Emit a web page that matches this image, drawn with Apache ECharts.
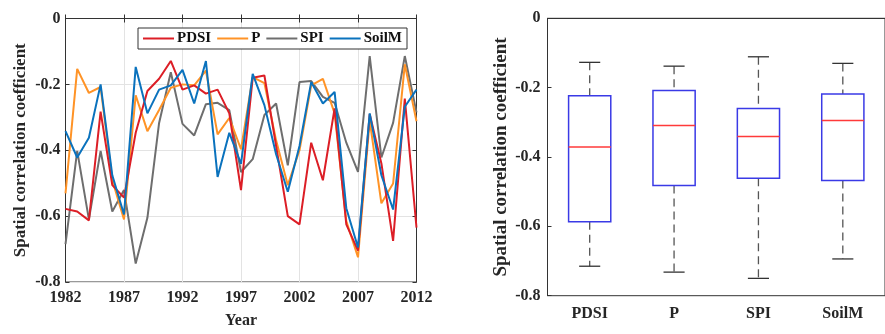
<!DOCTYPE html>
<html>
<head>
<meta charset="utf-8">
<script src="https://cdn.jsdelivr.net/npm/echarts@6/dist/echarts.min.js"></script>
<style>html,body{margin:0;padding:0;background:#fff;}#c{width:885px;height:334px;}</style>
</head>
<body>
<div id="c"></div>
<script>
// ---- Data ----
const years = [];
for (let y = 1982; y <= 2012; y++) years.push(String(y));

const pdsi = [-0.578, -0.586, -0.613, -0.283, -0.506, -0.544, -0.347, -0.220, -0.183, -0.129, -0.216, -0.203, -0.228, -0.216, -0.288, -0.521, -0.180, -0.173, -0.387, -0.600, -0.625, -0.377, -0.491, -0.273, -0.625, -0.705, -0.290, -0.440, -0.675, -0.243, -0.635];
const pData = [-0.531, -0.153, -0.226, -0.208, -0.490, -0.610, -0.233, -0.342, -0.278, -0.210, -0.200, -0.203, -0.158, -0.352, -0.302, -0.397, -0.178, -0.196, -0.370, -0.506, -0.400, -0.203, -0.183, -0.288, -0.615, -0.725, -0.310, -0.561, -0.501, -0.139, -0.312];
const spi = [-0.685, -0.402, -0.610, -0.402, -0.586, -0.521, -0.744, -0.605, -0.317, -0.163, -0.320, -0.355, -0.260, -0.256, -0.278, -0.466, -0.427, -0.293, -0.258, -0.446, -0.193, -0.190, -0.238, -0.256, -0.377, -0.466, -0.114, -0.422, -0.317, -0.114, -0.285];
const soilm = [-0.342, -0.422, -0.362, -0.200, -0.476, -0.595, -0.147, -0.288, -0.216, -0.203, -0.156, -0.258, -0.129, -0.481, -0.347, -0.441, -0.168, -0.263, -0.412, -0.526, -0.387, -0.193, -0.258, -0.223, -0.576, -0.695, -0.288, -0.476, -0.580, -0.268, -0.216];

const boxCategories = ['PDSI', 'P', 'SPI', 'SoilM'];
const boxLow    = [-0.715, -0.732, -0.750, -0.694];
const boxQ1     = [-0.587, -0.482, -0.461, -0.468];
const boxMedian = [-0.371, -0.309, -0.341, -0.295];
const boxQ3     = [-0.223, -0.208, -0.260, -0.218];
const boxHigh   = [-0.127, -0.138, -0.111, -0.130];

// ---- Styles ----
const FONT = '"Liberation Serif", "Times New Roman", serif';
const TXT = '#262626';
const AX = '#333333';

const boxData = boxCategories.map((c, i) => [i, boxLow[i], boxQ1[i], boxMedian[i], boxQ3[i], boxHigh[i]]);

function renderBox(params, api) {
  const x = api.value(0);
  const bw = api.size([1, 0])[0];
  const half = bw * 0.25;
  const cap = bw * 0.125;
  const pLo = api.coord([x, api.value(1)]);
  const pQ1 = api.coord([x, api.value(2)]);
  const pMed = api.coord([x, api.value(3)]);
  const pQ3 = api.coord([x, api.value(4)]);
  const pHi = api.coord([x, api.value(5)]);
  const cx = pMed[0];
  const dash = { stroke: '#555', lineWidth: 1.3, lineDash: [8, 5] };
  const solid = { stroke: '#333', lineWidth: 1.3 };
  return {
    type: 'group',
    children: [
      { type: 'line', shape: { x1: cx, y1: pHi[1], x2: cx, y2: pQ3[1] }, style: dash },
      { type: 'line', shape: { x1: cx, y1: pQ1[1], x2: cx, y2: pLo[1] }, style: dash },
      { type: 'line', shape: { x1: cx - cap, y1: pHi[1], x2: cx + cap, y2: pHi[1] }, style: solid },
      { type: 'line', shape: { x1: cx - cap, y1: pLo[1], x2: cx + cap, y2: pLo[1] }, style: solid },
      { type: 'rect', shape: { x: cx - half, y: pQ3[1], width: 2 * half, height: pQ1[1] - pQ3[1] },
        style: { fill: 'none', stroke: '#3a3ae6', lineWidth: 1.5 } },
      { type: 'line', shape: { x1: cx - half, y1: pMed[1], x2: cx + half, y2: pMed[1] },
        style: { stroke: '#ff3a3a', lineWidth: 1.5 } }
    ]
  };
}

const chart = echarts.init(document.getElementById('c'), null, { renderer: 'canvas' });

const labelStyle = { fontFamily: FONT, fontWeight: 'bold', fontSize: 16, color: TXT };

chart.setOption({
  animation: false,
  backgroundColor: '#fff',
  grid: [
    { left: 65.5, top: 18.5, width: 351, height: 268.5, show: true, borderColor: AX, borderWidth: 1, containLabel: false },
    { left: 547.5, top: 18.3, width: 352, height: 277.4, show: true, borderColor: AX, borderWidth: 1, containLabel: false }
  ],
  legend: {
    data: ['PDSI', 'P', 'SPI', 'SoilM'],
    left: 138, top: 28,
    orient: 'horizontal',
    padding: [3, 5],
    icon: 'rect',
    itemWidth: 31, itemHeight: 2, itemGap: 6,
    borderColor: AX, borderWidth: 1, backgroundColor: '#fff',
    textStyle: { fontFamily: FONT, fontWeight: 'bold', fontSize: 15, color: '#111', padding: [0, 0, 0, -2] }
  },
  xAxis: [
    {
      type: 'category', gridIndex: 0, data: years, boundaryGap: false,
      name: 'Year', nameLocation: 'middle', nameGap: 31,
      nameTextStyle: { fontFamily: FONT, fontWeight: 'bold', fontSize: 16, color: TXT },
      axisLine: { lineStyle: { color: AX } },
      axisTick: { inside: true, length: 4, interval: 4, lineStyle: { color: AX } },
      axisLabel: Object.assign({ interval: 4, margin: 8 }, labelStyle),
      splitLine: { show: true, interval: 4, lineStyle: { color: '#e3e3e3' } }
    },
    {
      type: 'category', gridIndex: 0, data: years, boundaryGap: false, position: 'top',
      axisLine: { lineStyle: { color: AX } },
      axisTick: { inside: true, length: 4, interval: 4, lineStyle: { color: AX } },
      axisLabel: { show: false }, splitLine: { show: false }
    },
    {
      type: 'category', gridIndex: 1, data: boxCategories, boundaryGap: true,
      axisLine: { lineStyle: { color: AX } },
      axisTick: { inside: true, length: 4, alignWithLabel: true, lineStyle: { color: AX } },
      axisLabel: Object.assign({ margin: 10 }, labelStyle),
      splitLine: { show: false }
    },
    {
      type: 'category', gridIndex: 1, data: boxCategories, boundaryGap: true, position: 'top',
      axisLine: { lineStyle: { color: AX } },
      axisTick: { inside: true, length: 4, alignWithLabel: true, lineStyle: { color: AX } },
      axisLabel: { show: false }, splitLine: { show: false }
    }
  ],
  yAxis: [
    {
      type: 'value', gridIndex: 0, min: -0.8, max: 0, interval: 0.2,
      name: 'Spatial correlation coefficient', nameLocation: 'middle', nameGap: 36, nameRotate: 90,
      nameTextStyle: { fontFamily: FONT, fontWeight: 'bold', fontSize: 17, color: TXT },
      axisLine: { show: true, lineStyle: { color: AX } },
      axisTick: { show: true, inside: true, length: 4, lineStyle: { color: AX } },
      axisLabel: Object.assign({ margin: 5 }, labelStyle),
      splitLine: { show: true, lineStyle: { color: '#e3e3e3' } }
    },
    {
      type: 'value', gridIndex: 0, min: -0.8, max: 0, interval: 0.2, position: 'right',
      axisLine: { show: true, lineStyle: { color: AX } },
      axisTick: { show: true, inside: true, length: 4, lineStyle: { color: AX } },
      axisLabel: { show: false }, splitLine: { show: false }
    },
    {
      type: 'value', gridIndex: 1, min: -0.8, max: 0, interval: 0.2,
      name: 'Spatial correlation coefficient', nameLocation: 'middle', nameGap: 37, nameRotate: 90,
      nameTextStyle: { fontFamily: FONT, fontWeight: 'bold', fontSize: 19, color: TXT },
      axisLine: { show: true, lineStyle: { color: AX } },
      axisTick: { show: true, inside: true, length: 4, lineStyle: { color: AX } },
      axisLabel: Object.assign({ margin: 7 }, labelStyle),
      splitLine: { show: false }
    }
  ],
  series: [
    { name: 'PDSI', type: 'line', xAxisIndex: 0, yAxisIndex: 0, data: pdsi, symbol: 'none', z: 5,
      lineStyle: { color: '#dc1e26', width: 2 }, itemStyle: { color: '#dc1e26' } },
    { name: 'P', type: 'line', xAxisIndex: 0, yAxisIndex: 0, data: pData, symbol: 'none', z: 4,
      lineStyle: { color: '#ff9326', width: 2 }, itemStyle: { color: '#ff9326' } },
    { name: 'SPI', type: 'line', xAxisIndex: 0, yAxisIndex: 0, data: spi, symbol: 'none', z: 3,
      lineStyle: { color: '#6e6e6e', width: 2 }, itemStyle: { color: '#6e6e6e' } },
    { name: 'SoilM', type: 'line', xAxisIndex: 0, yAxisIndex: 0, data: soilm, symbol: 'none', z: 6,
      lineStyle: { color: '#0a72bd', width: 2 }, itemStyle: { color: '#0a72bd' } },
    { name: 'box', type: 'custom', xAxisIndex: 2, yAxisIndex: 2, data: boxData,
      encode: { x: 0, y: [1, 2, 3, 4, 5] }, renderItem: renderBox, silent: true }
  ]
});
</script>
</body>
</html>
